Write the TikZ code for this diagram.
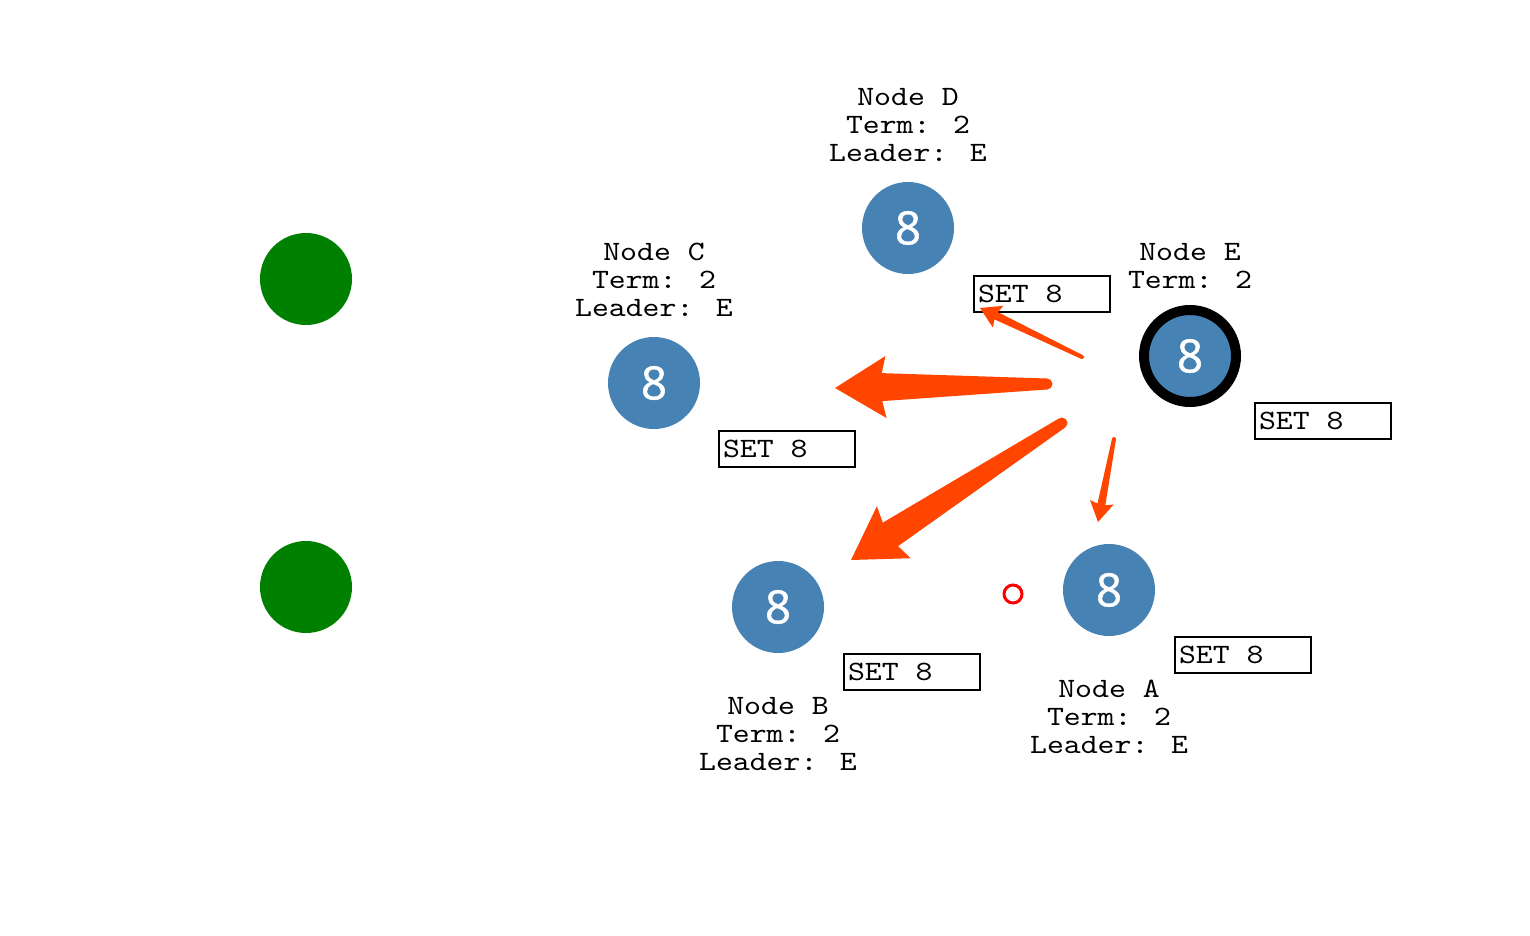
\documentclass[tikz,border=0pt]{standalone}
\usepackage{fontspec}
\usepackage{tikz}
\usetikzlibrary{shapes,arrows,positioning,calc}
\newfontfamily\digitfont[FakeBold=1]{Open Sans}
\newfontfamily\infofont[FakeStretch=1.15]{lmmono10-regular.otf}
\definecolor{steelblue}{RGB}{70,130,180}
\definecolor{ballgreen}{RGB}{0,128,0}
\definecolor{splat}{RGB}{255,69,0}

% tapered marker arrow: tail, tip, head length, notch, head half width, shaft half width, tail half width
\newcommand{\orangearrow}[7]{%
  \coordinate (hb) at ($(#2)!#3!(#1)$);
  \coordinate (nb) at ($(#2)!#4!(#1)$);
  \fill[splat] (#2) -- ($(hb)!#5!90:(#1)$) -- ($(nb)!#6!90:(#1)$)
    -- ($(#1)!#7!-90:(#2)$) -- ($(#1)!#7!90:(#2)$)
    -- ($(nb)!#6!-90:(#1)$) -- ($(hb)!#5!-90:(#1)$) -- cycle;
  \fill[splat] (#1) circle (#7);
}
\newcommand{\setentry}{SET\hspace{8.45pt}8}

\tikzset{
  greenball/.style={circle, fill=ballgreen, minimum size=46pt, inner sep=0pt},
  raftnode/.style={circle, fill=steelblue, minimum size=46pt, inner sep=0pt,
    text=white, font=\digitfont\fontsize{23}{25}\selectfont},
  leadernode/.style={raftnode, draw=black, line width=5pt},
  infotext/.style={align=center, inner sep=0pt, font=\infofont\fontsize{14}{14}\selectfont},
  setbox/.style={draw, line width=1pt, fill=white, rectangle, minimum height=18pt,
    text width=64pt, inner xsep=2pt, inner ysep=0pt, align=left,
    font=\infofont\fontsize{14}{14}\selectfont},
  markring/.style={circle, draw=red, line width=1.5pt, minimum size=9pt, inner sep=0pt}
}

\begin{document}
\begin{tikzpicture}[x=0.5pt, y=-0.5pt]
    \useasboundingbox (0,0) rectangle (1530,936);

    % Old cluster
    \node[greenball] (g1) at (306,279) {};
    \node[greenball] (g2) at (306,587) {};

    % Raft nodes
    \node[raftnode] (nD) at (908,228) {8};
    \node[raftnode] (nC) at (654,383) {8};
    \node[leadernode] (nE) at (1190,356) {8};
    \node[raftnode] (nB) at (778,607) {8};
    \node[raftnode] (nA) at (1109,590) {8};

    % Labels
    \node[infotext] (lD) at (908,125) {Node D\\Term: 2\\Leader: E};
    \node[infotext] (lC) at (654,280) {Node C\\Term: 2\\Leader: E};
    \node[infotext] (lE) at (1190,266) {Node E\\Term: 2};
    \node[infotext] (lB) at (778,734) {Node B\\Term: 2\\Leader: E};
    \node[infotext] (lA) at (1109,717) {Node A\\Term: 2\\Leader: E};

    % Log entries
    \node[setbox, anchor=north west] (sD) at (973,275) {\setentry};
    \node[setbox, anchor=north west] (sE) at (1254,402) {\setentry};
    \node[setbox, anchor=north west] (sC) at (718,430) {\setentry};
    \node[setbox, anchor=north west] (sB) at (843,653) {\setentry};
    \node[setbox, anchor=north west] (sA) at (1174,636) {\setentry};

    \node[markring] (mark) at (1013,594) {};

    % Replication arrows
    \coordinate (eD) at (1082,357);  \coordinate (tD) at (980,308);
    \coordinate (eC) at (1047,384);  \coordinate (tC) at (835,388);
    \coordinate (eB) at (1062,423);  \coordinate (tB) at (851,560);
    \coordinate (eA) at (1114,439);  \coordinate (tA) at (1098,522);
    \orangearrow{eD}{tD}{10pt}{9pt}{6pt}{2pt}{1pt}
    \orangearrow{eC}{tC}{25.5pt}{23.5pt}{15.5pt}{7pt}{2.75pt}
    \orangearrow{eB}{tB}{25.5pt}{23.5pt}{15.5pt}{7pt}{2.75pt}
    \orangearrow{eA}{tA}{10pt}{9pt}{6pt}{2pt}{1pt}
\end{tikzpicture}
\end{document}
